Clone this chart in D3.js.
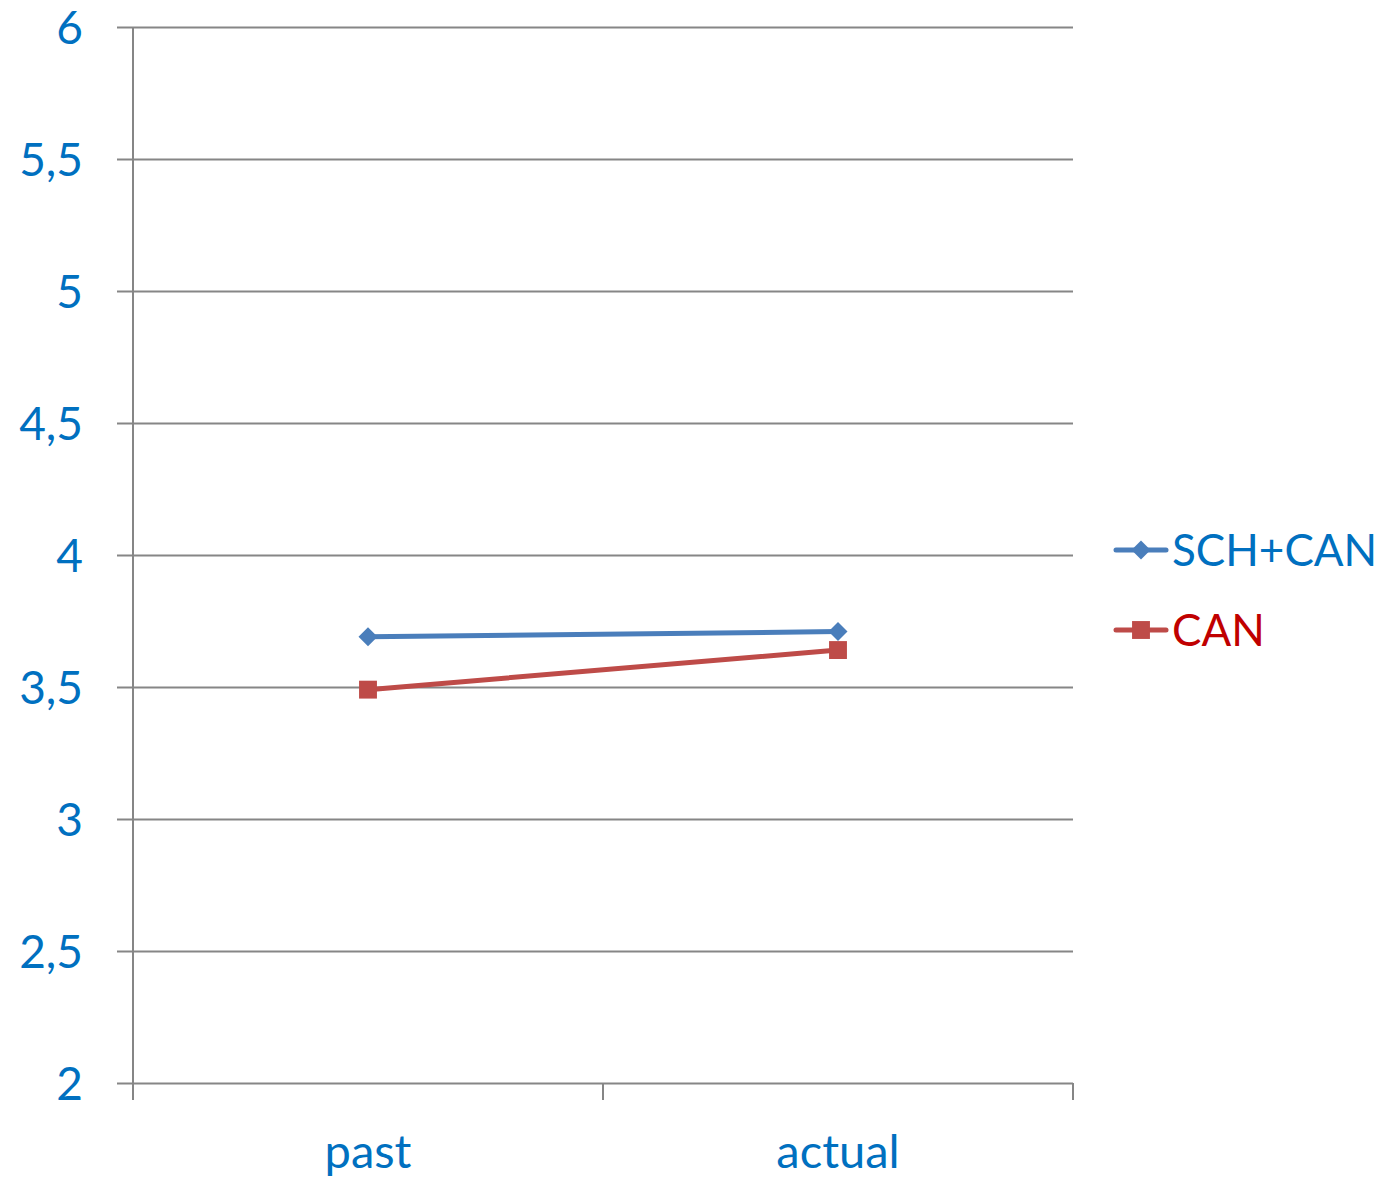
<!DOCTYPE html>
<html>
<head>
<meta charset="utf-8">
<script src="https://cdn.jsdelivr.net/npm/d3@7"></script>
<style>
  html, body { margin: 0; padding: 0; background: #fff; }
  svg { display: block; }
  text { font-family: Lato, "Open Sans", sans-serif; fill: #0070C0; }
</style>
</head>
<body>
<svg id="chart" width="1388" height="1177"></svg>
<script>
// Chart data
const categories = ["past", "actual"];
const seriesNames = ["SCH+CAN", "CAN"];
const schCanValues = [3.69, 3.71];
const canValues = [3.49, 3.64];
const yTicks = [2, 2.5, 3, 3.5, 4, 4.5, 5, 5.5, 6];
const yTickLabels = ["2", "2,5", "3", "3,5", "4", "4,5", "5", "5,5", "6"];

const seriesColors = ["#4A7EBB", "#BE4B48"];
const legendTextColors = ["#0070C0", "#C00000"];

const svg = d3.select("#chart");
const plotLeft = 133, plotRight = 1073, plotTop = 27, plotBottom = 1083;

const x = d3.scaleBand().domain(categories).range([plotLeft, plotRight]).padding(0);
const y = d3.scaleLinear().domain([2, 6]).range([plotBottom, plotTop]);

const gridColor = "#868686";

// Horizontal gridlines with left tick marks
const yAxis = d3.axisLeft(y)
  .tickValues(yTicks)
  .tickSize(-(plotRight - plotLeft))
  .tickFormat("");
const gy = svg.append("g").attr("transform", `translate(${plotLeft},0)`).call(yAxis);
gy.select(".domain").remove();
gy.selectAll(".tick line").attr("stroke", gridColor).attr("stroke-width", 2).attr("x1", -16);

// Y tick labels
svg.append("g").selectAll("text")
  .data(yTicks)
  .join("text")
  .attr("x", 83)
  .attr("y", d => y(d))
  .attr("dy", "0.36em")
  .attr("text-anchor", "end")
  .attr("font-size", 46)
  .text((d, i) => yTickLabels[i]);

// Vertical axis line
svg.append("line")
  .attr("x1", plotLeft).attr("x2", plotLeft)
  .attr("y1", plotTop).attr("y2", plotBottom + 17)
  .attr("stroke", gridColor).attr("stroke-width", 2);

// X-axis category boundary ticks
const bounds = [plotLeft + x.bandwidth(), plotRight];
svg.append("g").selectAll("line")
  .data(bounds)
  .join("line")
  .attr("x1", d => d).attr("x2", d => d)
  .attr("y1", plotBottom).attr("y2", plotBottom + 17)
  .attr("stroke", gridColor).attr("stroke-width", 2);

// X category labels
svg.append("g").selectAll("text")
  .data(categories)
  .join("text")
  .attr("x", d => x(d) + x.bandwidth() / 2)
  .attr("y", 1168)
  .attr("text-anchor", "middle")
  .attr("font-size", 47)
  .text(d => d);

// Series lines and markers
const allSeries = [schCanValues, canValues];
const line = d3.line()
  .x((d, i) => x(categories[i]) + x.bandwidth() / 2)
  .y(d => y(d));

const diamond = d3.symbol().type(d3.symbolDiamond2).size(230);
const square = d3.symbol().type(d3.symbolSquare).size(320);

allSeries.forEach((vals, s) => {
  svg.append("path")
    .datum(vals)
    .attr("d", line)
    .attr("fill", "none")
    .attr("stroke", seriesColors[s])
    .attr("stroke-width", 5)
    .attr("stroke-linecap", "round");
  svg.append("g").selectAll("path")
    .data(vals)
    .join("path")
    .attr("transform", (d, i) => `translate(${x(categories[i]) + x.bandwidth() / 2},${y(d)})`)
    .attr("d", s === 0 ? diamond : square)
    .attr("fill", seriesColors[s]);
});

// Legend
const legendY = [550, 630];
seriesNames.forEach((name, s) => {
  const g = svg.append("g");
  g.append("line")
    .attr("x1", 1116).attr("x2", 1166)
    .attr("y1", legendY[s]).attr("y2", legendY[s])
    .attr("stroke", seriesColors[s]).attr("stroke-width", 5)
    .attr("stroke-linecap", "round");
  g.append("path")
    .attr("transform", `translate(1141,${legendY[s]})`)
    .attr("d", s === 0 ? diamond : square)
    .attr("fill", seriesColors[s]);
  g.append("text")
    .attr("x", 1172)
    .attr("y", legendY[s])
    .attr("dy", "0.36em")
    .attr("font-size", 44)
    .style("fill", legendTextColors[s])
    .text(name);
});
</script>
</body>
</html>
